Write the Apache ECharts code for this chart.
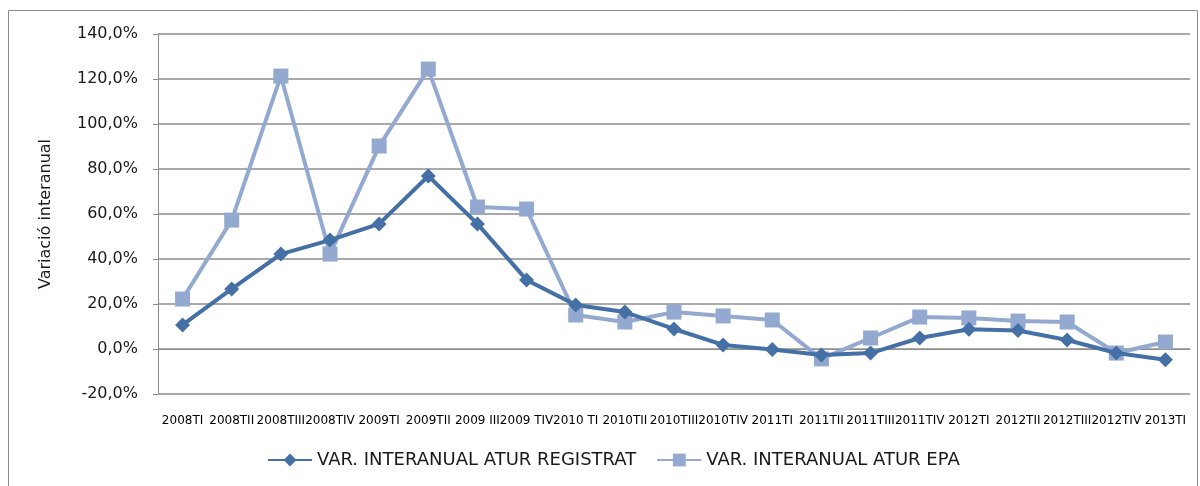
<!DOCTYPE html>
<html>
	<head>
		<meta charset="utf-8">
		<title>Variació interanual atur</title>
		<style>
html, body {
	width: 100%;
	height: 100%;
	margin: 0;
	background: #fff;
}
#box1 {
	width: 1200px;
	height: 486px;
}
		</style>
	</head>
	<body>
		<div id="box1"></div>
		<script src="https://cdn.jsdelivr.net/npm/echarts@6/dist/echarts.min.js"></script>
		<script type="text/javascript">
var categories = ['2008TI', '2008TII', '2008TIII', '2008TIV', '2009TI', '2009TII', '2009 III', '2009 TIV',
	'2010 TI', '2010TII', '2010TIII', '2010TIV', '2011TI', '2011TII', '2011TIII', '2011TIV',
	'2012TI', '2012TII', '2012TIII', '2012TIV', '2013TI'];

// percentatges llegits del gràfic
var registrat = [10.7, 26.7, 42.2, 48.4, 55.6, 76.9, 55.6, 30.7, 19.6, 16.4, 8.9, 1.8, -0.2, -2.7, -1.8, 4.9,
	8.8, 8.2, 4.0, -1.8, -4.8];
var epa = [22.2, 57.3, 121.3, 42.2, 90.2, 124.4, 63.1, 62.2, 15.1, 12.0, 16.4, 14.7, 12.9, -4.4, 4.9, 14.2,
	13.8, 12.4, 12.0, -1.8, 3.1];

var myChart = echarts.init(document.getElementById('box1'));

var font = '"DejaVu Sans", sans-serif';

var option = {
	backgroundColor: '#fff',
	animation: false,
	textStyle: { fontFamily: font },
	graphic: [{
		type: 'rect',
		shape: { x: 8.5, y: 10.5, width: 1189, height: 490 },
		style: { fill: 'none', stroke: '#8c8c8c', lineWidth: 1 }
	}],
	legend: {
		bottom: 12,
		left: 262,
		itemWidth: 44,
		itemHeight: 16,
		itemGap: 20,
		textStyle: { fontSize: 18, color: '#1a1a1a', fontFamily: font },
		data: ['VAR. INTERANUAL ATUR REGISTRAT', 'VAR. INTERANUAL ATUR EPA']
	},
	grid: {
		left: 158,
		right: 10,
		top: 34,
		bottom: 92
	},
	xAxis: {
		type: 'category',
		data: categories,
		boundaryGap: true,
		axisLine: { lineStyle: { color: '#8c8c8c', width: 1 } },
		axisTick: { show: false },
		axisLabel: {
			interval: 0,
			fontSize: 12,
			color: '#000',
			margin: 21,
			fontFamily: font
		}
	},
	yAxis: {
		type: 'value',
		min: -20,
		max: 140,
		interval: 20,
		name: 'Variació interanual',
		nameLocation: 'middle',
		nameGap: 104,
		nameTextStyle: { fontSize: 16, color: '#1a1a1a', fontFamily: font },
		axisLine: { show: true, lineStyle: { color: '#8c8c8c' } },
		axisTick: { show: true, length: 5, lineStyle: { color: '#8c8c8c' } },
		splitLine: { lineStyle: { color: '#8c8c8c', width: 1.5 } },
		axisLabel: {
			fontSize: 16,
			color: '#1a1a1a',
			margin: 20,
			fontFamily: font,
			formatter: function (v) {
				return v.toFixed(1).replace('.', ',') + '%';
			}
		}
	},
	series: [{
		name: 'VAR. INTERANUAL ATUR EPA',
		type: 'line',
		data: epa,
		symbol: 'rect',
		symbolSize: 15,
		lineStyle: { color: '#93a9d0', width: 4 },
		itemStyle: { color: '#93a9d0' },
		z: 2
	}, {
		name: 'VAR. INTERANUAL ATUR REGISTRAT',
		type: 'line',
		data: registrat,
		symbol: 'diamond',
		symbolSize: 15,
		lineStyle: { color: '#4470a6', width: 4 },
		itemStyle: { color: '#4470a6' },
		z: 3
	}]
};

myChart.setOption(option);
		</script>
	</body>
</html>
